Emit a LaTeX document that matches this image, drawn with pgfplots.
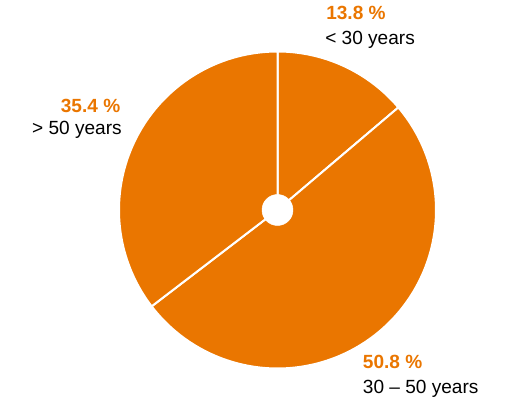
\documentclass[border=0pt]{standalone}
\usepackage{fontspec}
\setmainfont{Liberation Sans}
\usepackage{pgfplots}
\pgfplotsset{compat=1.18}
\definecolor{pieorange}{RGB}{234,118,0}
\def\pA{13.8}
\def\pB{50.8}
\def\pC{35.4}
\pgfmathsetmacro\aA{90-3.6*\pA}
\pgfmathsetmacro\aB{90-3.6*(\pA+\pB)}
\pgfmathsetmacro\aC{90-3.6*(\pA+\pB+\pC)}
\def\cx{277.5}
\def\cy{190}
\def\R{158.5}
\begin{document}
\begin{tikzpicture}
\begin{axis}[
  scale only axis, width=381pt, height=300pt,
  xmin=0, xmax=508, ymin=0, ymax=400,
  hide axis, clip=false,
]
\path (rel axis cs:0,0) rectangle (rel axis cs:1,1);
\addplot[fill=pieorange, draw=white, line width=1.5pt, domain=\aA:90, samples=60, variable=\t]
  ({\cx+\R*cos(\t)},{\cy+\R*sin(\t)}) -- (axis cs:\cx,\cy) -- cycle;
\addplot[fill=pieorange, draw=white, line width=1.5pt, domain=\aB:\aA, samples=120, variable=\t]
  ({\cx+\R*cos(\t)},{\cy+\R*sin(\t)}) -- (axis cs:\cx,\cy) -- cycle;
\addplot[fill=pieorange, draw=white, line width=1.5pt, domain=\aC:\aB, samples=100, variable=\t]
  ({\cx+\R*cos(\t)},{\cy+\R*sin(\t)}) -- (axis cs:\cx,\cy) -- cycle;
\addplot[only marks, mark=*, mark size=11.6pt, mark options={fill=white, draw=white}]
  coordinates {(277.5,190)};
\begin{scope}[every node/.style={inner sep=0pt, font=\fontsize{14.3}{16}\selectfont}]
\node[anchor=base west, text=pieorange] at (axis cs:326,380.7) {\textbf{13.8 \%}};
\node[anchor=base west] at (axis cs:325,355.7) {< 30 years};
\node[anchor=base east, text=pieorange] at (axis cs:120.5,287.7) {\textbf{35.4 \%}};
\node[anchor=base east] at (axis cs:122,265.7) {> 50 years};
\node[anchor=base west, text=pieorange] at (axis cs:362.7,31.7) {\textbf{50.8 \%}};
\node[anchor=base west] at (axis cs:362.7,6.7) {30 – 50 years};
\end{scope}
\end{axis}
\end{tikzpicture}
\end{document}
